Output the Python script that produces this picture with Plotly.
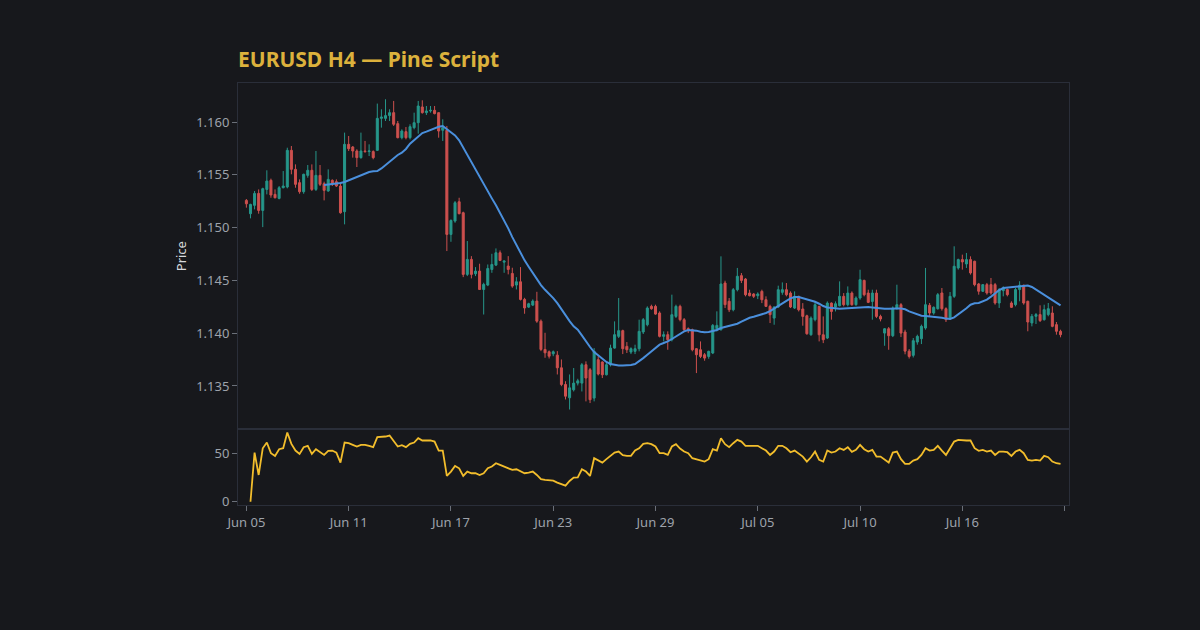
import plotly.graph_objects as go
from plotly.subplots import make_subplots

# EURUSD H4 bars (index 0 = first bar)
tick_index = [0, 25, 50, 75, 100, 125, 150, 175, 200]
tick_labels = ["Jun 05", "Jun 11", "Jun 17", "Jun 23", "Jun 29", "Jul 05", "Jul 10", "Jul 16", ""]

opens = [
    1.15258, 1.15132, 1.15211, 1.15324, 1.15163, 1.15362, 1.15448, 1.15315, 1.15277, 1.15378,
    1.15385, 1.15732, 1.15552, 1.15426, 1.15340, 1.15495, 1.15543, 1.15362, 1.15495, 1.15416,
    1.15347, 1.15448, 1.15435, 1.15394, 1.15151, 1.15789, 1.15764, 1.15726, 1.15663, 1.15726,
    1.15720, 1.15720, 1.15732, 1.16035, 1.16035, 1.16061, 1.16089, 1.15985, 1.15852, 1.15909,
    1.15852, 1.15947, 1.15994, 1.16143, 1.16089, 1.16105, 1.16111, 1.16089, 1.15922, 1.15922,
    1.14936, 1.15062, 1.15245, 1.15141, 1.14557, 1.14699, 1.14563, 1.14588, 1.14414, 1.14456,
    1.14604, 1.14645, 1.14762, 1.14673, 1.14636, 1.14566, 1.14456, 1.14487, 1.14320, 1.14247,
    1.14266, 1.14304, 1.14114, 1.13846, 1.13824, 1.13805, 1.13792, 1.13672, 1.13514, 1.13388,
    1.13464, 1.13527, 1.13527, 1.13701, 1.13654, 1.13385, 1.13749, 1.13727, 1.13606, 1.13701,
    1.13859, 1.13970, 1.14024, 1.13875, 1.13821, 1.13828, 1.13853, 1.14011, 1.14080, 1.14254,
    1.14254, 1.14191, 1.13970, 1.13986, 1.13938, 1.14159, 1.14254, 1.14128, 1.14043, 1.14033,
    1.13853, 1.13843, 1.13796, 1.13780, 1.13812, 1.14043, 1.14033, 1.14475, 1.14302, 1.14222,
    1.14412, 1.14545, 1.14513, 1.14380, 1.14371, 1.14355, 1.14396, 1.14317, 1.14254, 1.14143,
    1.14248, 1.14387, 1.14412, 1.14380, 1.14238, 1.14349, 1.14229, 1.14165, 1.13985, 1.14128,
    1.14254, 1.13985, 1.13954, 1.14285, 1.14248, 1.14260, 1.14349, 1.14270, 1.14380, 1.14270,
    1.14333, 1.14500, 1.14380, 1.14301, 1.14380, 1.14159, 1.14001, 1.14042, 1.13976, 1.14238,
    1.14270, 1.14011, 1.13830, 1.13790, 1.13916, 1.13948, 1.14049, 1.14264, 1.14191, 1.14232,
    1.14381, 1.14232, 1.14144, 1.14349, 1.14618, 1.14697, 1.14656, 1.14697, 1.14681, 1.14466,
    1.14397, 1.14460, 1.14460, 1.14460, 1.14286, 1.14403, 1.14413, 1.14286, 1.14270, 1.14413,
    1.14454, 1.14302, 1.14097, 1.14160, 1.14176, 1.14128, 1.14176, 1.14191, 1.14081, 1.14018,
]
highs = [
    1.15271, 1.15226, 1.15347, 1.15362, 1.15378, 1.15543, 1.15464, 1.15362, 1.15394, 1.15536,
    1.15757, 1.15773, 1.15599, 1.15457, 1.15511, 1.15593, 1.15599, 1.15726, 1.15593, 1.15435,
    1.15552, 1.15457, 1.15457, 1.15416, 1.15900, 1.15868, 1.15773, 1.15742, 1.15900, 1.15821,
    1.15789, 1.15732, 1.16175, 1.16121, 1.16216, 1.16121, 1.16200, 1.16010, 1.15931, 1.15953,
    1.15979, 1.16089, 1.16200, 1.16206, 1.16152, 1.16152, 1.16152, 1.16089, 1.16026, 1.15963,
    1.15078, 1.15252, 1.15283, 1.15151, 1.14873, 1.14730, 1.14626, 1.14658, 1.14478, 1.14651,
    1.14752, 1.14803, 1.14784, 1.14689, 1.14730, 1.14620, 1.14531, 1.14626, 1.14335, 1.14288,
    1.14320, 1.14392, 1.14130, 1.14004, 1.13836, 1.13836, 1.13830, 1.13751, 1.13545, 1.13609,
    1.13670, 1.13568, 1.13717, 1.13733, 1.13670, 1.13859, 1.13780, 1.13733, 1.13717, 1.13891,
    1.14112, 1.14333, 1.14033, 1.13916, 1.13866, 1.13891, 1.14128, 1.14144, 1.14254, 1.14270,
    1.14270, 1.14207, 1.14017, 1.14017, 1.14365, 1.14270, 1.14270, 1.14144, 1.14055, 1.14043,
    1.13859, 1.13922, 1.13812, 1.13834, 1.14087, 1.14207, 1.14728, 1.14497, 1.14333, 1.14428,
    1.14618, 1.14570, 1.14522, 1.14412, 1.14380, 1.14387, 1.14412, 1.14349, 1.14270, 1.14254,
    1.14450, 1.14481, 1.14475, 1.14396, 1.14396, 1.14355, 1.14285, 1.14175, 1.14159, 1.14301,
    1.14260, 1.14159, 1.14301, 1.14292, 1.14301, 1.14491, 1.14380, 1.14443, 1.14396, 1.14349,
    1.14601, 1.14507, 1.14412, 1.14412, 1.14412, 1.14175, 1.14049, 1.14058, 1.14254, 1.14459,
    1.14285, 1.14033, 1.13850, 1.13954, 1.13986, 1.14081, 1.14618, 1.14286, 1.14254, 1.14381,
    1.14428, 1.14245, 1.14390, 1.14823, 1.14706, 1.14744, 1.14760, 1.14728, 1.14687, 1.14476,
    1.14466, 1.14476, 1.14523, 1.14476, 1.14428, 1.14444, 1.14422, 1.14302, 1.14428, 1.14492,
    1.14460, 1.14308, 1.14182, 1.14191, 1.14264, 1.14270, 1.14286, 1.14255, 1.14106, 1.14033,
]
lows = [
    1.15189, 1.15088, 1.15173, 1.15132, 1.15005, 1.15315, 1.15283, 1.15277, 1.15268, 1.15372,
    1.15372, 1.15505, 1.15378, 1.15321, 1.15321, 1.15473, 1.15347, 1.15347, 1.15394, 1.15258,
    1.15340, 1.15394, 1.15385, 1.15132, 1.15031, 1.15726, 1.15663, 1.15574, 1.15653, 1.15710,
    1.15678, 1.15647, 1.15726, 1.15947, 1.16010, 1.16010, 1.15963, 1.15846, 1.15836, 1.15836,
    1.15836, 1.15931, 1.15890, 1.16080, 1.16067, 1.16089, 1.16073, 1.15852, 1.15821, 1.14778,
    1.14866, 1.15046, 1.15126, 1.14531, 1.14541, 1.14519, 1.14541, 1.14414, 1.14177, 1.14446,
    1.14572, 1.14636, 1.14683, 1.14572, 1.14557, 1.14430, 1.14414, 1.14310, 1.14184, 1.14239,
    1.14257, 1.14098, 1.13830, 1.13767, 1.13760, 1.13782, 1.13609, 1.13498, 1.13372, 1.13277,
    1.13448, 1.13505, 1.13448, 1.13354, 1.13338, 1.13354, 1.13600, 1.13575, 1.13600, 1.13685,
    1.13853, 1.13954, 1.13802, 1.13812, 1.13802, 1.13802, 1.13828, 1.13992, 1.14065, 1.14222,
    1.14175, 1.13960, 1.13922, 1.13843, 1.13922, 1.14144, 1.14112, 1.14017, 1.14001, 1.13828,
    1.13622, 1.13764, 1.13739, 1.13758, 1.13802, 1.14017, 1.14024, 1.14238, 1.14200, 1.14207,
    1.14396, 1.14475, 1.14349, 1.14349, 1.14333, 1.14323, 1.14285, 1.14248, 1.14096, 1.14080,
    1.14238, 1.14364, 1.14349, 1.14238, 1.14229, 1.14206, 1.14071, 1.13985, 1.13976, 1.14112,
    1.13922, 1.13906, 1.13944, 1.14128, 1.14206, 1.14254, 1.14254, 1.14254, 1.14260, 1.14260,
    1.14317, 1.14349, 1.14285, 1.14128, 1.14143, 1.14112, 1.13881, 1.13843, 1.13963, 1.14222,
    1.13963, 1.13800, 1.13760, 1.13770, 1.13891, 1.13897, 1.14033, 1.14160, 1.14175, 1.14223,
    1.14214, 1.14106, 1.14128, 1.14334, 1.14602, 1.14602, 1.14618, 1.14555, 1.14444, 1.14365,
    1.14390, 1.14365, 1.14365, 1.14270, 1.14239, 1.14349, 1.14349, 1.14239, 1.14254, 1.14302,
    1.14270, 1.14018, 1.14065, 1.14087, 1.14106, 1.14119, 1.14160, 1.14056, 1.13986, 1.13961,
]
closes = [
    1.15226, 1.15220, 1.15324, 1.15163, 1.15369, 1.15441, 1.15309, 1.15283, 1.15378, 1.15394,
    1.15732, 1.15552, 1.15410, 1.15340, 1.15505, 1.15543, 1.15362, 1.15495, 1.15410, 1.15353,
    1.15457, 1.15416, 1.15394, 1.15141, 1.15789, 1.15748, 1.15726, 1.15663, 1.15726, 1.15720,
    1.15726, 1.15663, 1.16035, 1.16048, 1.16061, 1.16089, 1.15979, 1.15852, 1.15915, 1.15852,
    1.15956, 1.15994, 1.16152, 1.16089, 1.16105, 1.16111, 1.16080, 1.15915, 1.15947, 1.14936,
    1.15068, 1.15236, 1.15132, 1.14557, 1.14699, 1.14557, 1.14588, 1.14414, 1.14462, 1.14613,
    1.14651, 1.14762, 1.14689, 1.14683, 1.14604, 1.14446, 1.14487, 1.14320, 1.14239, 1.14279,
    1.14304, 1.14114, 1.13846, 1.13814, 1.13782, 1.13824, 1.13672, 1.13514, 1.13403, 1.13482,
    1.13527, 1.13549, 1.13701, 1.13575, 1.13370, 1.13828, 1.13613, 1.13606, 1.13701, 1.13859,
    1.13986, 1.14024, 1.13853, 1.13843, 1.13853, 1.13853, 1.14017, 1.14128, 1.14238, 1.14232,
    1.14181, 1.13970, 1.13986, 1.13938, 1.14175, 1.14254, 1.14128, 1.14033, 1.14024, 1.13843,
    1.13796, 1.13780, 1.13764, 1.13828, 1.14074, 1.14074, 1.14466, 1.14270, 1.14222, 1.14412,
    1.14539, 1.14500, 1.14364, 1.14355, 1.14349, 1.14371, 1.14317, 1.14254, 1.14175, 1.14248,
    1.14412, 1.14412, 1.14364, 1.14248, 1.14349, 1.14222, 1.14159, 1.13995, 1.14143, 1.14270,
    1.13985, 1.13938, 1.14285, 1.14206, 1.14279, 1.14349, 1.14270, 1.14380, 1.14270, 1.14333,
    1.14507, 1.14364, 1.14292, 1.14380, 1.14159, 1.14134, 1.14042, 1.13976, 1.14238, 1.14270,
    1.14001, 1.13830, 1.13780, 1.13929, 1.13970, 1.14065, 1.14270, 1.14191, 1.14245, 1.14365,
    1.14232, 1.14128, 1.14349, 1.14634, 1.14697, 1.14675, 1.14697, 1.14571, 1.14460, 1.14397,
    1.14460, 1.14381, 1.14381, 1.14286, 1.14413, 1.14428, 1.14365, 1.14245, 1.14413, 1.14454,
    1.14286, 1.14106, 1.14160, 1.14176, 1.14119, 1.14223, 1.14232, 1.14065, 1.14018, 1.13986,
]

# blue moving average, starts at bar 19
ma_start = 19
ma_values = [
    1.15403, 1.15407, 1.15410, 1.15416, 1.15422, 1.15432, 1.15448, 1.15463, 1.15479, 1.15495,
    1.15511, 1.15527, 1.15533, 1.15536, 1.15561, 1.15593, 1.15625, 1.15656, 1.15688, 1.15710,
    1.15745, 1.15795, 1.15827, 1.15859, 1.15896, 1.15909, 1.15925, 1.15941, 1.15956, 1.15963,
    1.15931, 1.15906, 1.15874, 1.15827, 1.15757, 1.15688, 1.15618, 1.15549, 1.15473, 1.15403,
    1.15340, 1.15277, 1.15211, 1.15141, 1.15068, 1.14993, 1.14910, 1.14835, 1.14752, 1.14690,
    1.14630, 1.14572, 1.14506, 1.14456, 1.14411, 1.14373, 1.14332, 1.14285, 1.14225, 1.14162,
    1.14115, 1.14065, 1.14033, 1.13979, 1.13922, 1.13869, 1.13821, 1.13787, 1.13755, 1.13727,
    1.13708, 1.13698, 1.13695, 1.13695, 1.13695, 1.13698, 1.13708, 1.13733, 1.13764, 1.13796,
    1.13828, 1.13866, 1.13891, 1.13907, 1.13922, 1.13945, 1.13970, 1.13998, 1.14017, 1.14030,
    1.14030, 1.14024, 1.14014, 1.14008, 1.14011, 1.14017, 1.14030, 1.14049, 1.14058, 1.14065,
    1.14074, 1.14090, 1.14109, 1.14127, 1.14146, 1.14155, 1.14165, 1.14178, 1.14191, 1.14209,
    1.14235, 1.14260, 1.14285, 1.14307, 1.14330, 1.14342, 1.14342, 1.14330, 1.14317, 1.14311,
    1.14298, 1.14279, 1.14257, 1.14244, 1.14238, 1.14235, 1.14232, 1.14235, 1.14238, 1.14241,
    1.14244, 1.14248, 1.14248, 1.14248, 1.14244, 1.14238, 1.14235, 1.14232, 1.14232, 1.14235,
    1.14235, 1.14233, 1.14226, 1.14207, 1.14191, 1.14176, 1.14166, 1.14163, 1.14160, 1.14160,
    1.14157, 1.14147, 1.14138, 1.14135, 1.14150, 1.14176, 1.14207, 1.14236, 1.14270, 1.14283,
    1.14286, 1.14302, 1.14318, 1.14346, 1.14378, 1.14409, 1.14428, 1.14432, 1.14435, 1.14438,
    1.14444, 1.14447, 1.14451, 1.14438, 1.14413, 1.14384, 1.14356, 1.14334, 1.14311, 1.14286,
    1.14264,
]

# yellow oscillator in the lower pane, starts at bar 1
osc_start = 1
osc_values = [
    0.0, 50.7, 27.6, 55.2, 61.1, 50.1, 47.3, 54.2, 55.2, 71.5,
    59.7, 52.8, 49.4, 56.3, 57.7, 49.4, 54.2, 51.1, 48.3, 52.5,
    52.8, 50.7, 40.4, 61.1, 60.4, 58.7, 57.0, 58.7, 58.7, 57.7,
    56.3, 66.6, 66.6, 67.3, 68.3, 63.2, 57.0, 58.3, 56.3, 59.7,
    61.1, 65.6, 63.2, 63.2, 63.2, 62.1, 52.8, 52.8, 26.6, 31.1,
    37.0, 34.5, 26.6, 31.1, 29.4, 29.4, 27.6, 29.4, 34.5, 36.3,
    39.7, 38.0, 36.3, 35.2, 32.8, 33.5, 31.1, 29.4, 30.1, 31.1,
    27.6, 23.2, 22.5, 22.5, 21.8, 19.7, 18.0, 16.6, 21.4, 24.9,
    25.2, 33.5, 31.1, 26.6, 44.9, 42.5, 40.4, 43.9, 47.3, 50.7,
    51.8, 48.0, 47.3, 47.3, 52.8, 55.2, 59.7, 60.4, 59.4, 57.0,
    50.1, 50.1, 48.3, 57.0, 59.4, 54.9, 51.8, 50.1, 44.9, 43.9,
    42.5, 41.4, 43.9, 54.2, 52.8, 65.6, 59.4, 56.3, 60.4, 63.9,
    62.1, 57.7, 57.7, 57.7, 57.7, 55.2, 52.8, 48.3, 51.8, 57.7,
    57.7, 55.2, 51.1, 52.8, 49.4, 46.6, 41.4, 45.9, 51.8, 43.2,
    41.4, 52.8, 50.7, 51.8, 55.2, 53.5, 56.3, 51.4, 53.5, 58.7,
    54.2, 51.8, 53.5, 46.6, 46.6, 43.9, 40.4, 50.7, 51.8, 43.9,
    39.0, 39.0, 42.5, 43.9, 48.3, 55.2, 52.8, 53.5, 57.7, 52.8,
    48.3, 55.2, 62.1, 63.9, 63.2, 63.2, 63.2, 55.2, 52.5, 53.5,
    51.8, 52.8, 48.3, 51.8, 51.8, 51.1, 47.3, 51.8, 53.5, 50.1,
    43.2, 42.5, 43.2, 42.5, 47.3, 45.9, 41.4, 39.7, 39.0,
]

bar_index = list(range(len(closes)))
ma_index = list(range(ma_start, ma_start + len(ma_values)))
osc_index = list(range(osc_start, osc_start + len(osc_values)))

bg = "#17181c"
frame = "#2a2e39"
tick_col = "#9ea3ab"

fig = make_subplots(rows=2, cols=1, shared_xaxes=True, vertical_spacing=0,
                    row_heights=[0.8205, 0.1795])

fig.add_trace(go.Candlestick(
    x=bar_index, open=opens, high=highs, low=lows, close=closes,
    increasing=dict(line=dict(color="#26968a", width=1), fillcolor="#26968a"),
    decreasing=dict(line=dict(color="#cd504e", width=1), fillcolor="#cd504e"),
    whiskerwidth=0, name="EURUSD"), row=1, col=1)

fig.add_trace(go.Scatter(x=ma_index, y=ma_values, mode="lines",
                         line=dict(color="#4a8fdc", width=2), name="MA"), row=1, col=1)

fig.add_trace(go.Scatter(x=osc_index, y=osc_values, mode="lines",
                         line=dict(color="#f2bd2c", width=1.8), name="Osc"), row=2, col=1)

axis_common = dict(showgrid=False, zeroline=False, showline=True, mirror=True,
                   linecolor=frame, linewidth=1)

fig.update_xaxes(**axis_common, range=[-2.05, 201.07])
fig.update_xaxes(showticklabels=False, ticks="", rangeslider_visible=False, row=1, col=1)
fig.update_xaxes(tickmode="array", tickvals=tick_index, ticktext=tick_labels,
                 ticks="outside", ticklen=5, tickcolor="#6b7079",
                 tickfont=dict(size=13, color=tick_col), row=2, col=1)

fig.update_yaxes(**axis_common, ticks="outside", ticklen=5, tickcolor="#6b7079",
                 tickfont=dict(size=13, color=tick_col))
fig.update_yaxes(range=[1.1309, 1.1637], tickformat=".3f", dtick=0.005,
                 title=dict(text="Price", font=dict(size=13, color="#d6d8dc"), standoff=6),
                 row=1, col=1)
fig.update_yaxes(range=[-3.4, 74.8], tickvals=[0, 50], row=2, col=1)

fig.update_layout(
    width=1200, height=630,
    paper_bgcolor=bg, plot_bgcolor=bg,
    font=dict(family="Noto Sans", color=tick_col),
    margin=dict(l=238, r=131, t=83, b=125),
    showlegend=False,
    title=dict(text="<b>EURUSD H4 — Pine Script</b>", x=0, xref="paper", xanchor="left",
               y=0.905, yref="container", yanchor="middle",
               font=dict(size=21, color="#dcb13c", family="Noto Sans")),
)

# page without the default body margin so the figure sits at the top-left corner
fig.write_html("out.html", config={"displayModeBar": False},
               post_script="document.body.style.margin='0';document.body.style.background='#17181c';")
